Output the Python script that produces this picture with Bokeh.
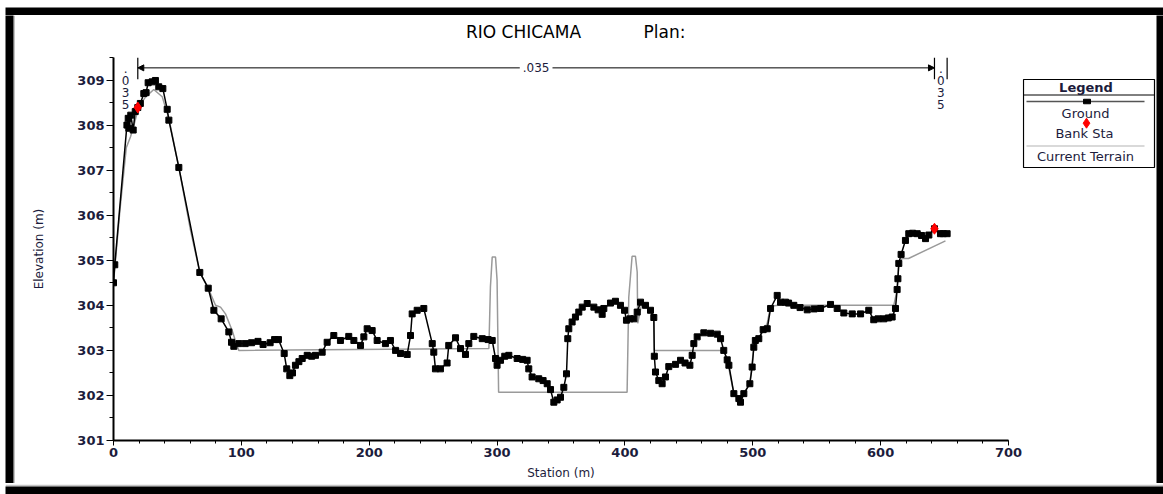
from bokeh.plotting import figure
from bokeh.models import (Range1d, FixedTicker, Label, Arrow, NormalHead, Spacer)
from bokeh.layouts import row, column
from bokeh.embed import file_html
from bokeh.resources import INLINE
from bokeh.core.properties import value

# ---------------- data ----------------
station = [0, 1, 10.5, 11.5, 12, 13.5, 15.4, 17, 19, 21, 23.7, 25.5, 27.1, 30.2, 32.8, 35.4,
           38.6, 42, 43.3, 51.1, 67.5, 74.1, 78.5, 84.2, 90.2, 92.3, 94.1, 98, 103, 108, 113,
           117, 122.5, 126, 129, 133.5, 135.5, 137.9, 140, 142.3, 145, 147.6, 151.5, 155, 158,
           163.2, 167.1, 172.3, 177.5, 184, 188, 193.2, 195.8, 198.4, 202.3, 206.2, 212.7,
           216.6, 220.6, 224.5, 229.7, 232.3, 233.6, 237.5, 242.7, 249.3, 250.5, 251.8, 255.7,
           260.9, 262.2, 267.5, 271.4, 275.3, 277.9, 281.8, 288.4, 293, 296.2, 298.8, 300,
           302.7, 306, 309.2, 315.7, 320, 323.5, 324.8, 327.4, 332.6, 336, 339.2, 341.8, 344.4,
           347, 349.6, 352.2, 354.3, 355.3, 356.1, 358.7, 361.3, 363.9, 366.6, 370.5, 375.7,
           379, 382.2, 383.5, 388.7, 392.6, 396.5, 399.7, 401.2, 404, 407, 409.6, 412.2, 416.1,
           420, 422.6, 423, 423.9, 426.5, 429.1, 431.7, 434.3, 439.6, 443.5, 447, 450.8, 452.6,
           453.9, 456.5, 461.7, 467, 472.2, 474.8, 477.3, 480, 481.3, 485.2, 489.1, 490.4, 493,
           497.7, 499.5, 500.8, 502, 504.7, 508.1, 511.3, 513.9, 519.1, 521.7, 525.6, 528,
           532.1, 537, 542.6, 548, 553, 560.8, 566, 571.2, 577.8, 584.3, 590.7, 594.6, 598,
           602.5, 606, 609, 611.6, 612.9, 613.5, 614.2, 616, 619.4, 622, 625, 628.6, 632,
           635.1, 637.7, 642.1, 646.8, 649, 652]
elevation = [304.5, 304.9, 308.0, 308.15, 307.93, 308.22, 307.89, 308.3, 308.39, 308.48, 308.7,
             308.72, 308.94, 308.96, 308.99, 308.85, 308.81, 308.35, 308.11, 307.06, 304.73,
             304.38, 303.89, 303.7, 303.41, 303.18, 303.09, 303.15, 303.15, 303.17, 303.2,
             303.13, 303.17, 303.24, 303.24, 302.93, 302.59, 302.44, 302.5, 302.67, 302.75,
             302.82, 302.89, 302.87, 302.89, 302.96, 303.18, 303.33, 303.22, 303.31, 303.22,
             303.11, 303.3, 303.48, 303.44, 303.22, 303.15, 303.22, 303.0, 302.93, 302.91,
             303.33, 303.81, 303.89, 303.93, 303.15, 302.96, 302.59, 302.59, 302.72, 303.11,
             303.28, 303.04, 302.91, 303.15, 303.31, 303.26, 303.24, 303.22, 302.82, 302.67,
             302.78, 302.87, 302.89, 302.82, 302.8, 302.78, 302.59, 302.41, 302.37, 302.33,
             302.26, 302.13, 301.85, 301.9, 301.96, 302.18, 302.48, 303.26, 303.48, 303.63,
             303.74, 303.85, 303.96, 304.04, 303.96, 303.9, 303.8, 303.93, 304.05, 304.09,
             304.0, 303.89, 303.67, 303.7, 303.7, 303.85, 304.07, 304.0, 303.89, 303.73,
             302.87, 302.52, 302.33, 302.26, 302.41, 302.64, 302.69, 302.78, 302.72, 302.67,
             302.89, 303.15, 303.3, 303.39, 303.38, 303.36, 303.26, 303.0, 302.79, 302.67,
             302.04, 301.93, 301.85, 302.04, 302.26, 302.63, 303.07, 303.22, 303.26, 303.46,
             303.48, 303.93, 304.22, 304.07, 304.07, 304.05, 304.0, 303.95, 303.9, 303.92,
             303.93, 304.02, 303.93, 303.83, 303.81, 303.81, 303.89, 303.68, 303.7, 303.7,
             303.72, 303.74, 303.93, 304.35, 304.59, 304.93, 305.13, 305.44, 305.59, 305.6,
             305.59, 305.55, 305.48, 305.56, 305.7, 305.59, 305.59, 305.59]

terrain_station = [0, 5, 10, 13.3, 16, 19.8, 25, 31.5, 38.1, 43.3, 51.1, 60, 67.5, 74.1, 79.8,
                   83.7, 87.6, 92.8, 96.7, 98, 293.6, 294.8, 296.2, 298.8, 300, 301.2, 401.7,
                   403, 405.6, 408.2, 409.6, 410, 413.4, 416.1, 420, 422.6, 423, 476, 477.3,
                   480, 485.2, 489.1, 493, 497.7, 500.8, 504.7, 511.3, 513.9, 520, 610.3,
                   612.9, 614.2, 616.8, 621.8, 650.7]
terrain_elev = [304.5, 306.1, 307.5, 307.74, 308.0, 308.41, 308.62, 308.79, 308.63, 308.15,
                307.06, 305.7, 304.73, 304.38, 304.0, 303.96, 303.81, 303.44, 303.09, 303.0,
                303.04, 304.41, 305.07, 305.07, 304.56, 302.07, 302.07, 304.18, 305.09, 305.09,
                304.74, 303.6, 304.07, 304.0, 303.89, 303.73, 303.0, 303.0, 303.0, 302.79,
                302.04, 301.93, 302.04, 302.26, 303.07, 303.26, 303.6, 303.98, 304.0, 304.0,
                304.35, 304.93, 305.04, 305.04, 305.43]

bank_station = [19.0, 642.1]
bank_elev = [308.39, 305.70]
mannings_n = ".035"
x_ticks = [0, 100, 200, 300, 400, 500, 600, 700]
y_ticks = [301, 302, 303, 304, 305, 306, 307, 308, 309]
title_parts = ["RIO CHICAMA", "Plan:"]
legend_title = "Legend"
legend_labels = ["Ground", "Bank Sta", "Current Terrain"]

# ---------------- style ----------------
FONT = "DejaVu Sans"
TXT = "#1c1c3c"
GRID_GREY = "#c4c4c4"

# ---------------- title strip (pixel coordinates of the page) ----------------
tf = figure(width=1007, height=30, output_backend="svg", toolbar_location=None,
            x_range=Range1d(15, 1022), y_range=Range1d(45, 15),
            x_axis_location=None, y_axis_location=None, min_border=0,
            background_fill_color="white", border_fill_color="white", frame_align=False)
tf.outline_line_color = None
tf.grid.visible = False
tf.text(x=[523, 664], y=[31, 31], text=title_parts, text_align="center",
        text_baseline="middle", text_font=value(FONT), text_font_size="17px",
        text_color="black")

# ---------------- main plot ----------------
p = figure(width=1007, height=438, output_backend="svg", toolbar_location=None,
           x_range=Range1d(0, 700), y_range=Range1d(301, 309.5),
           min_border_left=98, min_border_right=14, min_border_top=12, min_border_bottom=43,
           background_fill_color="white", border_fill_color="white", frame_align=False)
p.outline_line_color = None
p.grid.visible = False

p.xaxis.ticker = FixedTicker(ticks=x_ticks, minor_ticks=list(range(0, 701, 20)))
p.yaxis.ticker = FixedTicker(ticks=y_ticks, minor_ticks=[301 + 0.5 * i for i in range(18)])
for ax in (p.xaxis, p.yaxis):
    ax.axis_line_width = 2
    ax.axis_line_color = "black"
    ax.major_tick_line_color = "black"
    ax.minor_tick_line_color = "black"
    ax.major_tick_in = 0
    ax.minor_tick_in = 0
    ax.major_label_text_font = FONT
    ax.major_label_text_font_size = "13px"
    ax.major_label_text_font_style = "bold"
    ax.major_label_text_color = TXT
    ax.axis_label_text_font = FONT
    ax.axis_label_text_font_size = "12px"
    ax.axis_label_text_font_style = "normal"
    ax.axis_label_text_color = TXT
p.xaxis.major_tick_out = 5
p.xaxis.minor_tick_out = 3
p.yaxis.major_tick_out = 7
p.yaxis.minor_tick_out = 4
p.xaxis.major_label_standoff = 2
p.yaxis.major_label_standoff = 2
p.xaxis.axis_label = "Station (m)"
p.yaxis.axis_label = "Elevation (m)"
p.xaxis.axis_label_standoff = 6
p.yaxis.axis_label_standoff = 28

# data marks
p.line(terrain_station, terrain_elev, line_color="#9a9a9a", line_width=1.5)
p.line(station, elevation, line_color="black", line_width=1.5)
p.scatter(station, elevation, marker="square", size=6, color="black")
p.scatter(bank_station, bank_elev, marker="diamond", size=11, color="red")

# Manning's n annotation
y_bar_top, y_bar_bot, y_arrow = 309.5, 309.02, 309.27
edge_x = [bank_station[0], bank_station[1], station[-1]]
p.segment(x0=edge_x, y0=[y_bar_bot] * 3, x1=edge_x, y1=[y_bar_top] * 3,
          line_color="black", line_width=1.2)
mid_n = (bank_station[0] + bank_station[1]) / 2
for xe in bank_station:
    p.add_layout(Arrow(x_start=mid_n, y_start=y_arrow, x_end=xe, y_end=y_arrow, line_width=1,
                       end=NormalHead(size=6, fill_color="black", line_color="black")))
p.add_layout(Label(x=mid_n, y=y_arrow, text=mannings_n, text_align="center",
                   text_baseline="middle", text_font=FONT, text_font_size="12px",
                   text_color=TXT, background_fill_color="white", padding=3))
vert_n = "\n".join(list(mannings_n))
for xm in [(station[0] + bank_station[0]) / 2, (bank_station[1] + station[-1]) / 2]:
    p.add_layout(Label(x=xm, y=309.39, text=vert_n, text_align="center",
                       text_baseline="top", text_font=FONT, text_font_size="12px",
                       text_color=TXT, text_line_height=0.84))

# ---------------- legend panel (pixel coordinates of the page) ----------------
lg = figure(width=134, height=468, output_backend="svg", toolbar_location=None,
            x_range=Range1d(1022, 1156), y_range=Range1d(483, 15),
            x_axis_location=None, y_axis_location=None, min_border=0,
            background_fill_color="white", border_fill_color="white", frame_align=False)
lg.outline_line_color = None
lg.grid.visible = False
lg.quad(left=[1023], right=[1154], top=[79], bottom=[167], fill_color="white",
        line_color="black", line_width=1.2)
lg.segment(x0=[1023], y0=[94.5], x1=[1154], y1=[94.5], line_color="black", line_width=1)
lg.segment(x0=[1026], y0=[101], x1=[1144], y1=[101], line_color="#555555", line_width=1.5)
lg.rect(x=[1086.5], y=[101], width=7, height=4.5, fill_color="black", line_color="black")
lg.scatter(x=[1086], y=[122.7], marker="diamond", size=10, color="red")
lg.segment(x0=[1026], y0=[145.5], x1=[1144], y1=[145.5], line_color="#b4b4b4", line_width=1.2)
lg.text(x=[1085.5], y=[86.5], text=[legend_title], text_align="center", text_baseline="middle",
        text_font=value(FONT), text_font_size="13px", text_font_style="bold", text_color=TXT)
lg.text(x=[1085, 1084, 1085], y=[112.5, 133, 156], text=legend_labels, text_align="center",
        text_baseline="middle", text_font=value(FONT), text_font_size="13px", text_color=TXT)

# ---------------- outer frame ----------------
def strip(w, h, **borders):
    f = figure(width=w, height=h, output_backend="svg", toolbar_location=None,
               x_range=Range1d(0, 1), y_range=Range1d(0, 1),
               x_axis_location=None, y_axis_location=None, min_border=0,
               background_fill_color="black", border_fill_color=GRID_GREY,
               frame_align=False, **borders)
    f.outline_line_color = None
    f.grid.visible = False
    return f

top = strip(1158, 10, min_border_bottom=2)
left = strip(10, 468, min_border_right=2)
right = strip(7, 468)
bottom = strip(1158, 11, min_border_top=2)

layout = column(
    Spacer(width=1163, height=5),
    row(Spacer(width=5, height=10), top),
    row(Spacer(width=5, height=468), left, column(tf, p, spacing=0), lg, right),
    row(Spacer(width=5, height=11), bottom),
    spacing=0,
)

open("out.html", "w").write(file_html(layout, INLINE))
